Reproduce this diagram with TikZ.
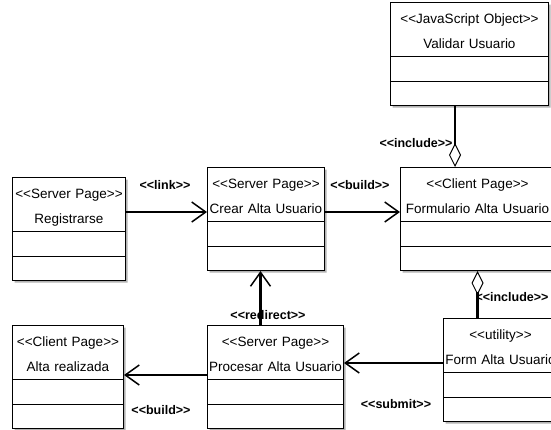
\documentclass[tikz,border=0pt]{standalone}
\usepackage{fontspec}
\setmainfont{Liberation Sans}
\usetikzlibrary{shapes.multipart,arrows.meta,shadows}
\newcommand{\st}[1]{<{}<#1>{}>}
\newcommand{\clase}[2]{\rule{0pt}{20pt}\makebox[\linewidth]{\st{#1}}\\[9pt]\makebox[\linewidth]{#2}\rule[-8pt]{0pt}{0pt}}
\begin{document}
\begin{tikzpicture}[x=1pt,y=1pt]
	\tikzset{clase/.style=
        {draw=black, fill=white, line width=1pt, rectangle split, rectangle split parts=3,
         rectangle split empty part height=23.5pt, rectangle split empty part depth=0pt,
         inner ysep=0pt, inner xsep=2pt, align=center, anchor=north west,
         font=\fontsize{13.5}{16}\selectfont,
         drop shadow={shadow xshift=2pt, shadow yshift=-2pt, fill=gray!60, opacity=1}},
      rotulo/.style={font=\bfseries\fontsize{12.5}{15}\selectfont, inner sep=0pt},
      conn/.style={line width=2.5pt, -{Straight Barb[length=14pt,width=20pt,line width=1.5pt]}},
      incl/.style={line width=2.5pt, -{Diamond[open,length=24pt,width=12pt,line width=1pt]}}
     }
	\useasboundingbox (0,0) rectangle (551,-429);
	\clip (0,0) rectangle (551,-429);
	\node[clase, text width=154pt] (valid) at (390,-2) {\clase{JavaScript Object}{Validar Usuario}};
	\node[clase, text width=109pt] (regis) at (12,-177) {\clase{Server Page}{Registrarse}};
	\node[clase, text width=113pt] (crear) at (207,-167) {\clase{Server Page}{Crear Alta Usuario}};
	\node[clase, text width=150pt] (form) at (400,-167) {\clase{Client Page}{Formulario Alta Usuario}};
	\node[clase, text width=107pt] (altar) at (12,-325) {\clase{Client Page}{Alta realizada}};
	\node[clase, text width=132pt] (proc) at (207,-325) {\clase{Server Page}{Procesar Alta Usuario}};
	\node[clase, text width=110pt] (util) at (443,-318) {\clase{utility}{Form Alta Usuario}};

	\draw[conn] ([yshift=-35pt]regis.north east) -- ([yshift=-35pt]regis.north east -| crear.west);
	\draw[conn] ([yshift=-45pt]crear.north east) -- ([yshift=-45pt]crear.north east -| form.west);
	\draw[incl] ([xshift=65pt]valid.south west) -- ([xshift=65pt]valid.south west |- form.north);
	\draw[incl] (util.north -| form.south) -- (form.south);
	\draw[conn] ([xshift=-15pt]proc.north) -- ([xshift=-15pt]proc.north |- crear.south);
	\draw[conn] ([yshift=-45pt]util.north west) -- ([yshift=-45pt]util.north west -| proc.east);
	\draw[conn] ([yshift=-50pt]proc.north west) -- ([yshift=-50pt]proc.north west -| altar.east);

	\node[rotulo] (lbllink) at (165,-185) {\st{link}};
	\node[rotulo] (lblbuild1) at (360,-185) {\st{build}};
	\node[rotulo] (lblincl1) at (416,-143) {\st{include}};
	\node[rotulo] (lblincl2) at (512,-297) {\st{include}};
	\node[rotulo] (lblredir) at (268,-315) {\st{redirect}};
	\node[rotulo] (lblsubmit) at (396,-404) {\st{submit}};
	\node[rotulo] (lblbuild2) at (161,-410) {\st{build}};
\end{tikzpicture}
\end{document}
